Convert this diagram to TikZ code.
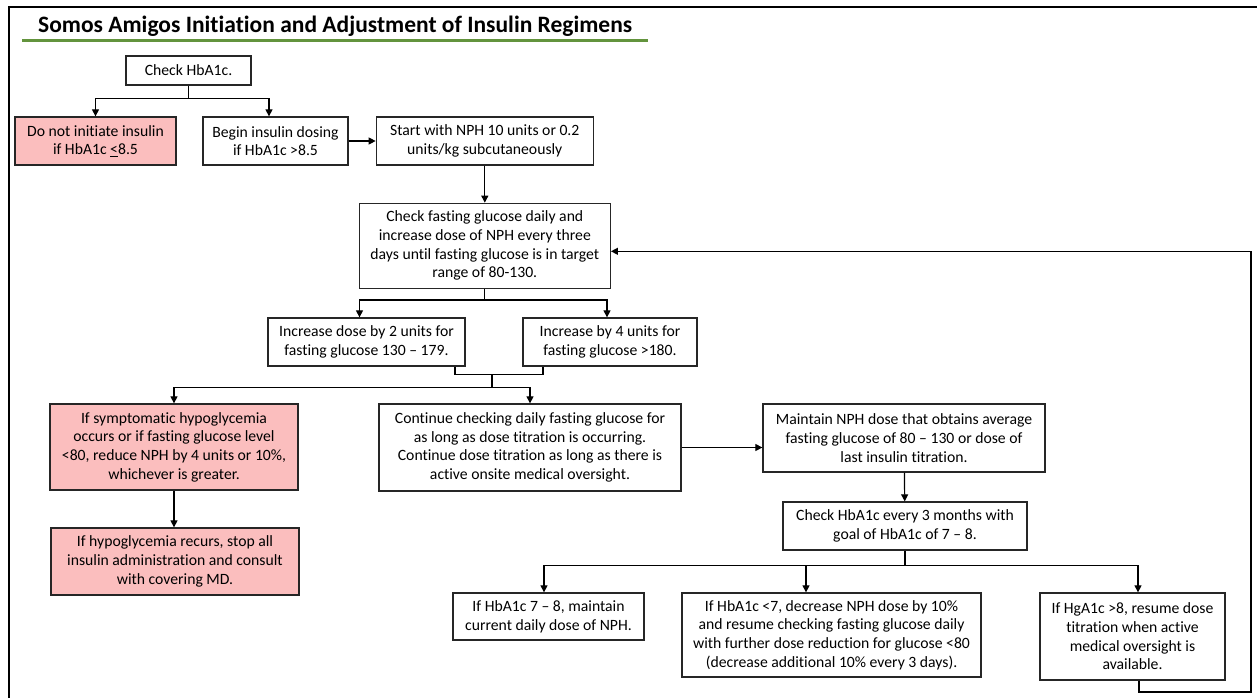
\documentclass[tikz,border=0pt]{standalone}
\usepackage{fontspec}
\setmainfont{Carlito}[Ligatures={NoCommon}]
\usetikzlibrary{positioning}
\usepgflibrary{arrows.meta}
\definecolor{pinkfill}{RGB}{251,190,190}
\definecolor{titlegreen}{RGB}{99,148,61}

\begin{document}
\begin{tikzpicture}
    [x=1pt, y=-1pt,
    box/.style={draw=black!85, line width=1.3pt, align=center, inner sep=1pt,
        font=\fontsize{15.7}{18.7}\selectfont},
    redbox/.style={box, fill=pinkfill},
    flow/.style={-{Triangle[length=7pt,width=7pt]}, line width=1.2pt},
    link/.style={line width=1.2pt}]
        \useasboundingbox (0,0) rectangle (1257,698);
        % frame and title
        \draw[line width=2pt] (9,698) -- (9,7) -- (1257,7);
        \node[anchor=base west, inner sep=0pt, font=\bfseries\fontsize{23.5}{27}\selectfont] (title) at (38,33) {Somos Amigos Initiation and Adjustment of Insulin Regimens};
        \draw[titlegreen, line width=3pt] (22,41) -- (648,41);

        \node[box, minimum width=125pt, minimum height=29pt] (chk) at (188.5,70.5) {Check HbA1c.};
        \node[redbox, minimum width=161pt, minimum height=48pt] (noinit) at (95.5,141) {Do not initiate insulin\\if HbA1c \underline{<}8.5};
        \node[box, minimum width=145pt, minimum height=48pt] (begin) at (275.5,141) {Begin insulin dosing\\if HbA1c >8.5};
        \node[box, minimum width=217pt, minimum height=48pt, right=27pt of begin] (start) {Start with NPH 10 units or 0.2\\units/kg subcutaneously};
        \node[box, minimum width=251pt, minimum height=85pt, below=37pt of start] (fast) {Check fasting glucose daily and\\increase dose of NPH every three\\days until fasting glucose is in target\\range of 80-130.};
        \node[box, minimum width=197pt, minimum height=48pt] (inc2) at (366.5,342) {Increase dose by 2 units for\\fasting glucose 130 -- 179.};
        \node[box, minimum width=174pt, minimum height=48pt] (inc4) at (610,342) {Increase by 4 units for\\fasting glucose >180.};
        \node[redbox, minimum width=248pt, minimum height=86pt] (hypo) at (174,447) {If symptomatic hypoglycemia\\occurs or if fasting glucose level\\<80, reduce NPH by 4 units or 10\%,\\whichever is greater.};
        \node[redbox, minimum width=248pt, minimum height=67pt] (recur) at (175,561.5) {If hypoglycemia recurs, stop all\\insulin administration and consult\\with covering MD.};
        \node[box, minimum width=302pt, minimum height=87pt] (cont) at (530,447.5) {Continue checking daily fasting glucose for\\as long as dose titration is occurring.\\Continue dose titration as long as there is\\active onsite medical oversight.};
        \node[box, minimum width=282pt, minimum height=68pt] (maint) at (904,438) {Maintain NPH dose that obtains average\\fasting glucose of 80 -- 130 or dose of\\last insulin titration.};
        \node[box, minimum width=244pt, minimum height=48pt] (every) at (905,526) {Check HbA1c every 3 months with\\goal of HbA1c of 7 -- 8.};
        \node[box, minimum width=191pt, minimum height=47pt] (keep) at (548.5,616.5) {If HbA1c 7 -- 8, maintain\\current daily dose of NPH.};
        \node[box, minimum width=299pt, minimum height=84pt] (lower) at (831.5,635) {If HbA1c <7, decrease NPH dose by 10\%\\and resume checking fasting glucose daily\\with further dose reduction for glucose <80\\(decrease additional 10\% every 3 days).};
        \node[box, minimum width=185pt, minimum height=87pt] (resume) at (1132.5,636.5) {If HgA1c >8, resume dose\\titration when active\\medical oversight is\\available.};

        \coordinate (loopbr) at (1251,692);

        \draw[link] (chk.south) -- ++(0,13) coordinate (j1);
        \draw[flow] (j1) -| (noinit.north);
        \draw[flow] (j1) -| ([xshift=-6.5pt]begin.north);
        \draw[flow] (begin) -- (start);
        \draw[flow] (start) -- (fast);

        \draw[link] (fast.south) -- ++(0,11) coordinate (j2);
        \draw[flow] (j2) -| ([xshift=-7pt]inc2.north);
        \draw[flow] (j2) -| ([xshift=-3pt]inc4.north);
        \draw[link] ([xshift=88.5pt]inc2.south) -- ++(0,8) -| ([xshift=-67pt]inc4.south);
        \draw[link] ([xshift=125.5pt]inc2.south) ++(0,8) -- ++(0,13) coordinate (j3);
        \draw[flow] (j3) -| (hypo.north);
        \draw[flow] (j3) -| (cont.north);
        \draw[flow] (hypo.south) -- (hypo.south |- recur.north);

        \draw[flow] (cont.east) -- (cont.east -| maint.west);
        \draw[flow] (maint) -- (every);
        \draw[link] (every.south) -- ++(0,15) coordinate (j4);
        \draw[flow] (j4) -| ([xshift=-4.5pt]keep.north);
        \draw[flow] (j4) -| ([xshift=-25.5pt]lower.north);
        \draw[flow] (j4) -| ([xshift=5.5pt]resume.north);
        \draw[flow] ([xshift=6.5pt]resume.south) |- (loopbr) |- ([yshift=-5.5pt]fast.east);
\end{tikzpicture}
\end{document}
